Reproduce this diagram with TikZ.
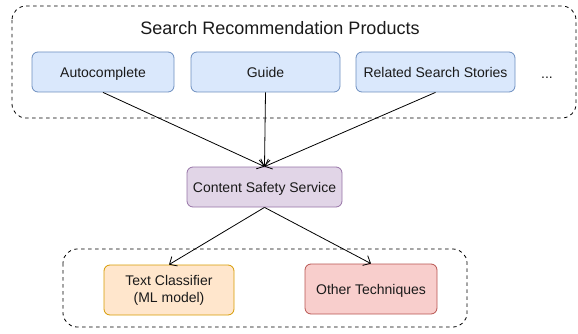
\documentclass[tikz,border=0pt]{standalone}
\usepackage{fontspec}
\setmainfont{Liberation Sans}
\usetikzlibrary{arrows.meta}
\definecolor{bfill}{HTML}{DAE8FC}\definecolor{bdraw}{HTML}{6C8EBF}
\definecolor{pfill}{HTML}{E1D5E7}\definecolor{pdraw}{HTML}{9673A6}
\definecolor{ofill}{HTML}{FFE6CC}\definecolor{odraw}{HTML}{D79B00}
\definecolor{rfill}{HTML}{F8CECC}\definecolor{rdraw}{HTML}{B85450}
\definecolor{txt}{HTML}{1A1A1A}
\tikzset{
  box/.style={draw, rounded corners=6pt, line width=0.8pt, minimum height=40pt, inner sep=0pt, align=center, font=\fontsize{14}{17}\selectfont, text=txt},
  oneline/.style={text height=13pt, text depth=2pt},
  bluebox/.style={box, oneline, fill=bfill, draw=bdraw},
  container/.style={draw, dashed, dash pattern=on 3.5pt off 3.5pt, rounded corners=14pt, line width=0.8pt},
  arr/.style={-{Straight Barb[length=6pt,width=11pt,line width=0.8pt]}, line width=0.8pt},
}
\begin{document}
\begin{tikzpicture}[x=1pt,y=-1pt]
\useasboundingbox (0,0) rectangle (578,334);
\draw[container] (12,6) rectangle (576,118);
\node[font=\fontsize{18}{21}\selectfont, text=txt] (title) at (280,28) {Search Recommendation Products};
\node[bluebox, minimum width=142pt] (auto) at (103,72) {Autocomplete};
\node[bluebox, minimum width=149pt] (guide) at (265.5,72) {Guide};
\node[bluebox, minimum width=159pt] (rel) at (435.5,72) {Related Search Stories};
\node[font=\fontsize{14}{17}\selectfont, text=txt, oneline] (dots) at (547,73) {...};
\node[box, oneline, fill=pfill, draw=pdraw, minimum width=155pt] (css) at (264.5,187) {Content Safety Service};
\draw[container] (63,249) rectangle (467,327);
\node[box, fill=ofill, draw=odraw, minimum width=130pt, minimum height=50pt] (tc) at (169,290) {Text Classifier\\(ML model)};
\node[box, oneline, fill=rfill, draw=rdraw, minimum width=132pt, minimum height=50pt] (ot) at (371,289) {Other Techniques};
\draw[arr] (auto.south) -- (css.north);
\draw[arr] (guide.south) -- (css.north);
\draw[arr] (rel.south) -- (css.north);
\draw[arr] (css.south) -- (tc.north);
\draw[arr] (css.south) -- (ot.north);
\end{tikzpicture}
\end{document}
